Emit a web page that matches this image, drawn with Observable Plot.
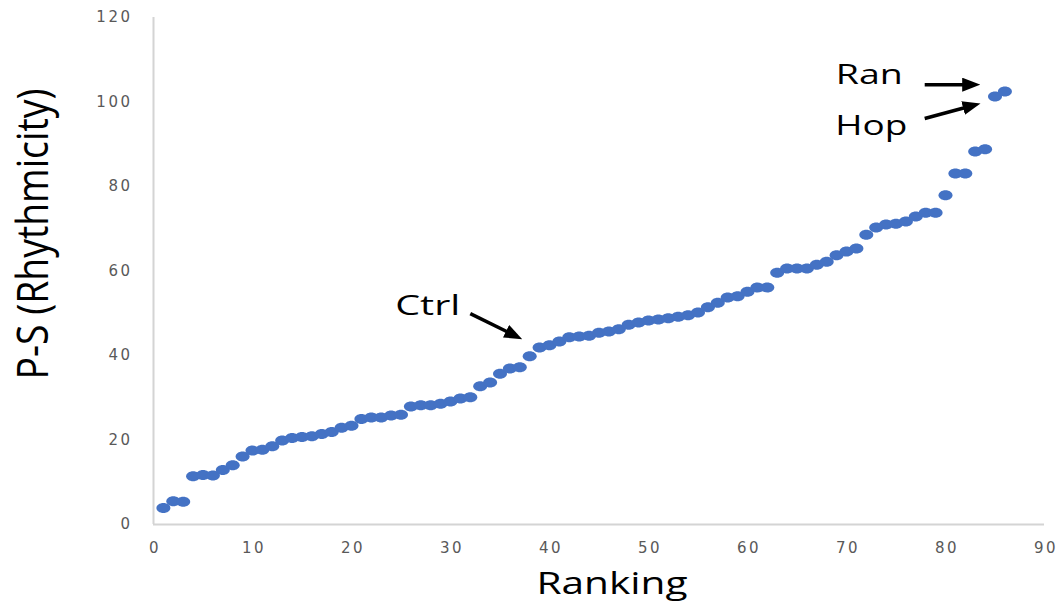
<!DOCTYPE html>
<html>
<head>
<meta charset="utf-8">
<script src="https://cdn.jsdelivr.net/npm/d3@7"></script>
<script src="https://cdn.jsdelivr.net/npm/@observablehq/plot@0.6"></script>
<style>
  html, body { margin: 0; padding: 0; background: #fff; }
  #chart svg { display: block; }
  g[aria-label="y-axis tick label"] text,
  g[aria-label="x-axis tick label"] text { letter-spacing: 2.5px; }
</style>
</head>
<body>
<div id="chart"></div>
<script>
// ---- data ----
const ranking = d3.range(1, 87);
const rhythmicity = [
  3.9, 5.5, 5.4, 11.4, 11.7, 11.6, 12.9, 14.0, 16.1, 17.5,
  17.7, 18.5, 19.9, 20.5, 20.7, 20.9, 21.4, 21.9, 22.9, 23.4,
  25.0, 25.3, 25.3, 25.8, 26.0, 27.9, 28.2, 28.2, 28.6, 29.1,
  29.8, 30.1, 32.7, 33.6, 35.7, 36.9, 37.2, 39.8, 41.9, 42.4,
  43.3, 44.3, 44.5, 44.7, 45.4, 45.7, 46.2, 47.3, 47.8, 48.3,
  48.5, 48.8, 49.2, 49.5, 50.2, 51.4, 52.5, 53.7, 54.0, 55.1,
  56.1, 56.1, 59.6, 60.6, 60.6, 60.6, 61.5, 62.2, 63.7, 64.6,
  65.3, 68.6, 70.3, 71.0, 71.2, 71.7, 72.9, 73.8, 73.8, 77.9,
  83.1, 83.1, 88.3, 88.8, 101.3, 102.5
];
const xTicks = [0, 10, 20, 30, 40, 50, 60, 70, 80, 90];
const yTicks = [0, 20, 40, 60, 80, 100, 120];

// annotations (data units)
const annoLabels = ["Ctrl", "Ran", "Hop"];
const annoX = [27.7, 72.3, 72.5];
const annoY = [51.8, 106.4, 94.3];
const arrowX1 = [32.0, 77.9, 77.9];
const arrowY1 = [49.9, 104.1, 96.1];
const arrowX2 = [36.7, 82.9, 82.95];
const arrowY2 = [44.5, 104.1, 99.3];

const xTitle = "Ranking";
const yTitle = "P-S (Rhythmicity)";

// ---- build tables ----
const points = ranking.map((r, i) => ({rank: r, value: rhythmicity[i]}));
const annos = annoLabels.map((t, i) => ({label: t, x: annoX[i], y: annoY[i]}));
const arrows = annoLabels.map((t, i) => ({x1: arrowX1[i], y1: arrowY1[i], x2: arrowX2[i], y2: arrowY2[i]}));

// ---- styling helpers ----
const ellipseSymbol = {
  draw(context) {
    const rx = 7, ry = 5, k = 0.5523;
    context.moveTo(rx, 0);
    context.bezierCurveTo(rx, ry * k, rx * k, ry, 0, ry);
    context.bezierCurveTo(-rx * k, ry, -rx, ry * k, -rx, 0);
    context.bezierCurveTo(-rx, -ry * k, -rx * k, -ry, 0, -ry);
    context.bezierCurveTo(rx * k, -ry, rx, -ry * k, rx, 0);
    context.closePath();
  }
};

function filledArrow(color, context) {
  const ns = "http://www.w3.org/2000/svg";
  const doc = context.document;
  const m = doc.createElementNS(ns, "marker");
  m.setAttribute("viewBox", "-18 -7 18 14");
  m.setAttribute("markerWidth", 18);
  m.setAttribute("markerHeight", 14);
  m.setAttribute("markerUnits", "userSpaceOnUse");
  m.setAttribute("orient", "auto");
  m.setAttribute("refX", -6);
  m.setAttribute("refY", 0);
  m.setAttribute("fill", color);
  m.setAttribute("stroke", "none");
  const p = doc.createElementNS(ns, "path");
  p.setAttribute("d", "M-18,-7L0,0L-18,7Z");
  m.appendChild(p);
  return m;
}

const textWidths = {"Ctrl": 65, "Ran": 67, "Hop": 72, "Ranking": 151, "P-S (Rhythmicity)": 291};

const chart = Plot.plot({
  width: 1057,
  height: 603,
  marginLeft: 153,
  marginRight: 13,
  marginTop: 17,
  marginBottom: 79,
  style: {fontFamily: "'Open Sans', sans-serif", background: "#fff"},
  x: {domain: [0, 90], ticks: xTicks},
  y: {domain: [0, 120], ticks: yTicks},
  marks: [
    Plot.ruleX([0], {stroke: "#d4d4d4", strokeWidth: 2}),
    Plot.ruleY([0], {stroke: "#d4d4d4", strokeWidth: 2}),
    Plot.axisY({ticks: yTicks, tickSize: 0, tickPadding: 21, label: null, fontSize: 15, fill: "#595959", fontFamily: "'DejaVu Sans', sans-serif"}),
    Plot.axisX({ticks: xTicks, tickSize: 0, tickPadding: 18, label: null, fontSize: 15, fill: "#595959", fontFamily: "'DejaVu Sans', sans-serif", dx: 1.5}),
    Plot.dot(points, {x: "rank", y: "value", symbol: ellipseSymbol, fill: "#4472C4", stroke: "none"}),
    Plot.link(arrows, {x1: "x1", y1: "y1", x2: "x2", y2: "y2", stroke: "#000", strokeWidth: 3.5, markerEnd: filledArrow}),
    Plot.text(annos, {x: "x", y: "y", text: "label", fontSize: 28, fill: "#000", textAnchor: "middle", lineAnchor: "middle", fontFamily: "'Open Sans', sans-serif"}),
    Plot.text([xTitle], {frameAnchor: "bottom", textAnchor: "middle", lineAnchor: "middle", dx: 13, dy: 60, fontSize: 31, fill: "#000", fontFamily: "'Open Sans', sans-serif"}),
    Plot.text([yTitle], {frameAnchor: "left", textAnchor: "middle", lineAnchor: "middle", rotate: -90, dx: -120, dy: -37, fontSize: 44, fill: "#000", fontFamily: "'Open Sans', sans-serif"})
  ]
});

// stretch annotation texts to the reference widths
d3.select(chart).selectAll("text").each(function () {
  const w = textWidths[this.textContent];
  if (w) {
    this.setAttribute("textLength", w);
    this.setAttribute("lengthAdjust", "spacingAndGlyphs");
  }
});

document.getElementById("chart").appendChild(chart);
</script>
</body>
</html>
